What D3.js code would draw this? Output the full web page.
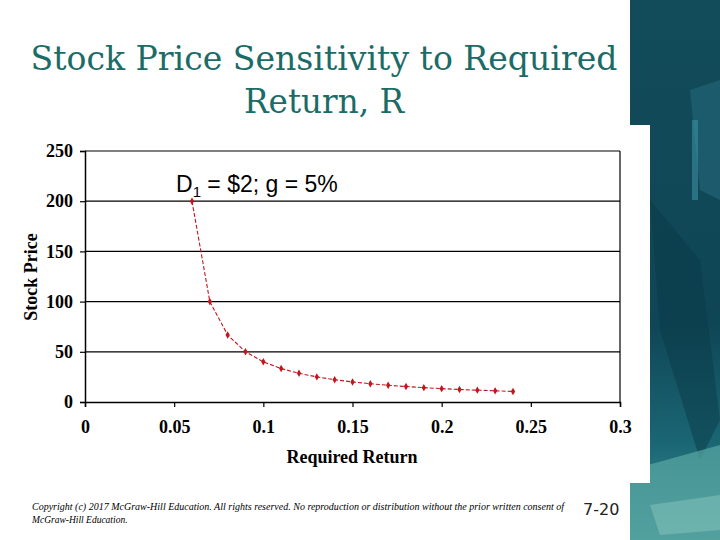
<!DOCTYPE html>
<html><head><meta charset="utf-8">
<script src="https://cdn.jsdelivr.net/npm/d3@7"></script>
<style>html,body{margin:0;padding:0;background:#fff;}svg{display:block;}</style>
</head><body>
<script>
const requiredReturn = [0.06,0.07,0.08,0.09,0.10,0.11,0.12,0.13,0.14,0.15,0.16,0.17,0.18,0.19,0.20,0.21,0.22,0.23,0.24];
const stockPrice = [200,100,66.7,50,40,33.3,28.6,25,22.2,20,18.2,16.7,15.4,14.3,13.3,12.5,11.8,11.1,10.5];
const xTicks = [0,0.05,0.1,0.15,0.2,0.25,0.3];
const xTickLabels = ["0","0.05","0.1","0.15","0.2","0.25","0.3"];
const yTicks = [0,50,100,150,200,250];
const titleLines = ["Stock Price Sensitivity to Required","Return, R"];

const W=720,H=540;
const svg=d3.select("body").append("svg").attr("width",W).attr("height",H);

// decorative background on the right
const defs=svg.append("defs");
const g1=defs.append("linearGradient").attr("id","deco").attr("x1",0).attr("y1",0).attr("x2",0).attr("y2",1);
g1.append("stop").attr("offset","0%").attr("stop-color","#124b5a");
g1.append("stop").attr("offset","60%").attr("stop-color","#0f4656");
g1.append("stop").attr("offset","82%").attr("stop-color","#1b6674");
g1.append("stop").attr("offset","100%").attr("stop-color","#3f8f96");
svg.append("rect").attr("x",630).attr("y",0).attr("width",90).attr("height",H).attr("fill","url(#deco)");
svg.append("polygon").attr("points","690,90 720,80 720,200 700,190").attr("fill","#24687a").attr("opacity",0.6);
svg.append("polygon").attr("points","650,200 700,260 720,420 700,460 660,330").attr("fill","#0a3a48").attr("opacity",0.5);
svg.append("rect").attr("x",692).attr("y",120).attr("width",6).attr("height",80).attr("fill","#3b8ea0").attr("opacity",0.6);
svg.append("polygon").attr("points","630,470 720,445 720,540 630,540").attr("fill","#5aa8a2").attr("opacity",0.7);
svg.append("polygon").attr("points","650,505 720,495 720,530 660,535").attr("fill","#8fc9c0").attr("opacity",0.45);
// white chart box
svg.append("rect").attr("x",0).attr("y",125).attr("width",650).attr("height",358).attr("fill","#fff");

// title
svg.append("g").selectAll("text").data(titleLines).join("text")
  .attr("x",324).attr("y",(d,i)=>70+i*43)
  .attr("text-anchor","middle")
  .attr("font-family","'DejaVu Serif', serif")
  .attr("font-size",33).attr("fill","#1b6b66")
  .attr("textLength",(d,i)=>i===0?587:160).attr("lengthAdjust","spacingAndGlyphs")
  .text(d=>d);

// scales
const x=d3.scaleLinear().domain([0,0.3]).range([85,620]);
const y=d3.scaleLinear().domain([0,250]).range([402,151]);

// gridlines
svg.append("g").selectAll("line").data(yTicks.filter(d=>d>0)).join("line")
  .attr("x1",x(0)).attr("x2",x(0.3)).attr("y1",d=>y(d)).attr("y2",d=>y(d))
  .attr("stroke","#000").attr("stroke-width",1.2);
svg.append("line").attr("x1",x(0.3)).attr("x2",x(0.3)).attr("y1",y(250)).attr("y2",y(0)).attr("stroke","#000").attr("stroke-width",1.2);

// axes
const yAxis=d3.axisLeft(y).tickValues(yTicks).tickSize(5).tickFormat(d3.format("d"));
const ya=svg.append("g").attr("transform",`translate(${x(0)},0)`).call(yAxis);
ya.select(".domain").attr("stroke","#000").attr("stroke-width",1.5);
ya.selectAll(".tick line").attr("stroke","#000").attr("stroke-width",1.2);
ya.selectAll(".tick text").attr("font-family","'Liberation Serif', serif").attr("font-weight","bold")
  .attr("font-size",18).attr("fill","#000").attr("x",-12);

const xAxis=d3.axisBottom(x).tickValues(xTicks).tickSize(5).tickFormat((d,i)=>xTickLabels[i]);
const xa=svg.append("g").attr("transform",`translate(0,${y(0)})`).call(xAxis);
xa.select(".domain").attr("stroke","#000").attr("stroke-width",1.5);
xa.selectAll(".tick line").attr("stroke","#000").attr("stroke-width",1.2);
xa.selectAll(".tick text").attr("font-family","'Liberation Serif', serif").attr("font-weight","bold")
  .attr("font-size",18).attr("fill","#000").attr("y",18);

// axis titles
svg.append("text").attr("x",352).attr("y",463).attr("text-anchor","middle")
  .attr("font-family","'Liberation Serif', serif").attr("font-weight","bold").attr("font-size",18)
  .text("Required Return");
svg.append("text").attr("transform","translate(37,277) rotate(-90)").attr("text-anchor","middle")
  .attr("font-family","'Liberation Serif', serif").attr("font-weight","bold").attr("font-size",18)
  .text("Stock Price");

// annotation
const ann=svg.append("text").attr("x",176).attr("y",192)
  .attr("font-family","'Liberation Sans', Arial, sans-serif").attr("font-size",23).attr("fill","#000");
ann.append("tspan").text("D");
ann.append("tspan").attr("font-size",15).attr("dy",5).text("1");
ann.append("tspan").attr("dy",-5).text(" = $2; g = 5%");

// series
const data=requiredReturn.map((r,i)=>({r,p:stockPrice[i]}));
svg.append("path").datum(data)
  .attr("d",d3.line().x(d=>x(d.r)).y(d=>y(d.p)))
  .attr("fill","none").attr("stroke","#c0161e").attr("stroke-width",1.1).attr("stroke-dasharray","4,2");
svg.append("g").selectAll("path").data(data).join("path")
  .attr("transform",d=>`translate(${x(d.r)},${y(d.p)})`)
  .attr("d",d3.symbol().type(d3.symbolDiamond).size(16))
  .attr("fill","#c0161e");

// footer
const foot=svg.append("text").attr("font-family","'Liberation Serif', serif").attr("font-style","italic")
  .attr("font-size",9.5).attr("fill","#000");
foot.append("tspan").attr("x",32).attr("y",510).attr("textLength",532).attr("lengthAdjust","spacingAndGlyphs")
  .text("Copyright (c) 2017 McGraw-Hill Education. All rights reserved. No reproduction or distribution without the prior written consent of");
foot.append("tspan").attr("x",32).attr("y",523).text("McGraw-Hill Education.");
svg.append("text").attr("x",583).attr("y",515).attr("font-family","'DejaVu Sans', sans-serif")
  .attr("font-size",16).attr("fill","#222").text("7-20");
</script>
</body></html>
